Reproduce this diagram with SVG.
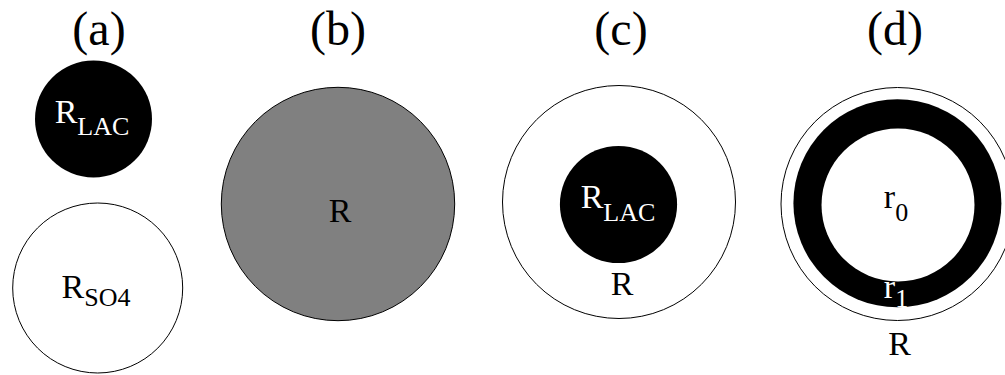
<svg xmlns="http://www.w3.org/2000/svg" width="1005" height="375" viewBox="0 0 1005 375">
  <style>
    text { text-anchor: middle; font-family: "Liberation Serif", serif; }
    .cap { font-size: 48px; fill: #000; }
    .lbl { font-size: 34px; fill: #000; }
    .inv { fill: #fff; }
    .sub { font-size: 26px; }
    .thin { fill: #fff; stroke: #000; stroke-width: 1; }
    .solid { fill: #000; }
  </style>
  <rect width="1005" height="375" fill="#fff"/>

  <!-- panel captions -->
  <g id="captions">
    <text class="cap" x="99" y="45" font-family="Liberation Serif">(a)</text>
    <text class="cap" x="338" y="45" font-family="Liberation Serif">(b)</text>
    <text class="cap" x="621" y="45" font-family="Liberation Serif">(c)</text>
    <text class="cap" x="895" y="45" font-family="Liberation Serif">(d)</text>
  </g>

  <!-- (a) separate particles -->
  <g id="a-lac">
    <circle class="solid" cx="93.5" cy="119" r="58.5"/>
    <text class="lbl inv" x="92" y="123" font-family="Liberation Serif">R<tspan class="sub" dy="12">LAC</tspan></text>
  </g>
  <g id="a-so4">
    <circle class="thin" cx="97.7" cy="288" r="85"/>
    <text class="lbl" x="96" y="298" font-family="Liberation Serif">R<tspan class="sub" dy="8">SO4</tspan></text>
  </g>

  <!-- (b) uniform sphere -->
  <g id="b-sphere">
    <circle cx="338" cy="204" r="116.7" fill="#808080" stroke="#000" stroke-width="1"/>
    <text class="lbl" x="340" y="222" font-family="Liberation Serif">R</text>
  </g>

  <!-- (c) core and shell -->
  <g id="c-shell">
    <circle class="thin" cx="619" cy="202" r="116.5"/>
    <text class="lbl" x="622" y="295" font-family="Liberation Serif">R</text>
  </g>
  <g id="c-core">
    <circle class="solid" cx="618.5" cy="204.5" r="58.6"/>
    <text class="lbl inv" x="618" y="208" font-family="Liberation Serif">R<tspan class="sub" dy="13">LAC</tspan></text>
  </g>

  <!-- (d) hollow ring inside outer sphere -->
  <g id="d-outer">
    <circle class="thin" cx="897.5" cy="204" r="116.5"/>
    <text class="lbl" x="899.5" y="355" font-family="Liberation Serif">R</text>
  </g>
  <g id="d-ring">
    <circle class="solid" cx="897.4" cy="203.3" r="104"/>
    <circle fill="#fff" cx="898" cy="205" r="76.5"/>
    <text class="lbl" x="896" y="208" font-family="Liberation Serif">r<tspan class="sub" dy="13">0</tspan></text>
    <text class="lbl inv" x="896" y="298" font-family="Liberation Serif">r<tspan class="sub" dy="9">1</tspan></text>
  </g>

  <g id="connectors"/>
</svg>
